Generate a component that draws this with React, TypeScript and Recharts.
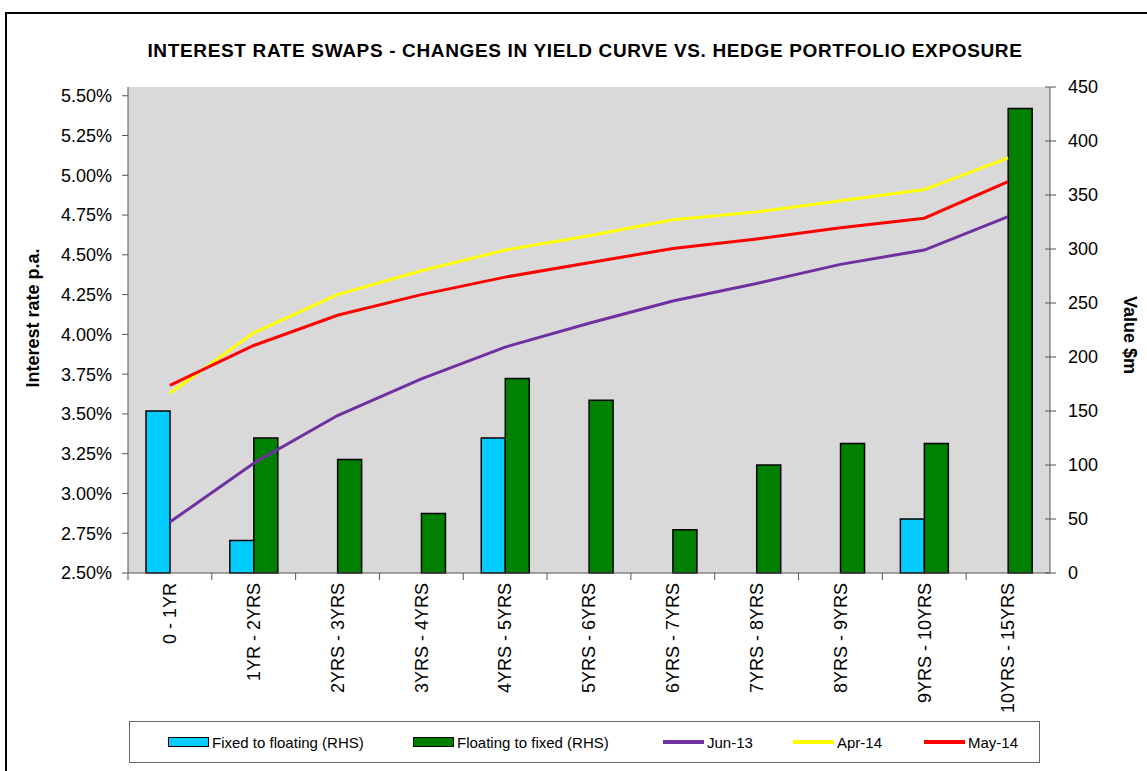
import React from "react"
import {
  ComposedChart,
  Bar,
  Line,
  XAxis,
  YAxis,
  CartesianGrid,
  Legend,
  Label
} from 'recharts'

const categories = [
  '0 - 1YR', '1YR - 2YRS', '2YRS - 3YRS', '3YRS - 4YRS', '4YRS - 5YRS', '5YRS - 6YRS',
  '6YRS - 7YRS', '7YRS - 8YRS', '8YRS - 9YRS', '9YRS - 10YRS', '10YRS - 15YRS'
]
// $m, right axis
const fixedToFloating = [150, 30, null, null, 125, null, null, null, null, 50, null]
const floatingToFixed = [null, 125, 105, 55, 180, 160, 40, 100, 120, 120, 430]
// % p.a., left axis
const jun13 = [2.82, 3.19, 3.49, 3.72, 3.92, 4.07, 4.21, 4.32, 4.44, 4.53, 4.74]
const apr14 = [3.63, 4.01, 4.25, 4.40, 4.53, 4.62, 4.72, 4.77, 4.84, 4.91, 5.11]
const may14 = [3.68, 3.93, 4.12, 4.25, 4.36, 4.45, 4.54, 4.60, 4.67, 4.73, 4.96]

const rateTicks = [2.5, 2.75, 3, 3.25, 3.5, 3.75, 4, 4.25, 4.5, 4.75, 5, 5.25, 5.5]
const valueTicks = [0, 50, 100, 150, 200, 250, 300, 350, 400, 450]

const data = categories.map((name, i) => ({
  name,
  fixed: fixedToFloating[i],
  floating: floatingToFixed[i],
  jun13: jun13[i],
  apr14: apr14[i],
  may14: may14[i]
}))

// left = offset of the swatch inside the legend box
const legendItems = [
  { label: 'Fixed to floating (RHS)', color: '#00CCFF', kind: 'bar', left: 38 },
  { label: 'Floating to fixed (RHS)', color: '#008000', kind: 'bar', left: 283 },
  { label: 'Jun-13', color: '#7030A0', kind: 'line', left: 533 },
  { label: 'Apr-14', color: '#FFFF00', kind: 'line', left: 663 },
  { label: 'May-14', color: '#FF0000', kind: 'line', left: 794 }
]

const font = '"Liberation Sans", Arial, sans-serif'
const axisColor = '#555'

function CategoryTick({ x, y, payload }: any) {
  const half = payload.offset ?? 0
  return (
    <g transform={`translate(${x},${y})`}>
      <line x1={-half} x2={-half} y1={0} y2={7} stroke={axisColor} />
      <text transform="rotate(-90)" x={-10} y={0} dy="0.35em" textAnchor="end"
        fontSize={18} fill="#000" fontFamily={font}>
        {payload.value}
      </text>
    </g>
  )
}

function ValueTick({ x, y, payload }: any) {
  return (
    <g>
      <line x1={x - 23} x2={x - 12} y1={y} y2={y} stroke={axisColor} />
      <text x={x} y={y} dy="0.35em" textAnchor="start" fontSize={18} fill="#000" fontFamily={font}>
        {payload.value}
      </text>
    </g>
  )
}

function ChartLegend() {
  return (
    <div style={{
      position: 'relative', boxSizing: 'border-box', height: 42, border: '1px solid #666',
      background: '#fff', fontSize: 15, fontFamily: font
    }}>
      {legendItems.map((it) => (
        <div key={it.label} style={{
          position: 'absolute', left: it.left, top: 0, height: 40,
          display: 'flex', alignItems: 'center', whiteSpace: 'nowrap'
        }}>
          {it.kind === 'bar'
            ? <span style={{ display: 'inline-block', boxSizing: 'border-box', width: 41, height: 10, background: it.color, border: '1.5px solid #000' }} />
            : <span style={{ display: 'inline-block', width: 41, height: 4, background: it.color }} />}
          <span style={{ marginLeft: 3, color: '#000' }}>{it.label}</span>
        </div>
      ))}
    </div>
  )
}

function App() {
  return (
    <div style={{ position: 'absolute', left: 0, top: 0, width: 1147, height: 771, background: '#fff', fontFamily: font, overflow: 'hidden' }}>
      <div style={{ position: 'absolute', left: 5, top: 12, width: 1200, height: 800, borderTop: '2px solid #000', borderLeft: '2px solid #000' }} />
      <div style={{
        position: 'absolute', left: 0, width: 1170, top: 41, textAlign: 'center',
        fontSize: 19, lineHeight: '19px', fontWeight: 'bold', letterSpacing: 0.65, color: '#000'
      }}>
        INTEREST RATE SWAPS - CHANGES IN YIELD CURVE VS. HEDGE PORTFOLIO EXPOSURE
      </div>
      <div style={{ position: 'absolute', left: 0, top: 0 }}>
        <ComposedChart width={1147} height={771} data={data} barGap={0} barSize={24}
          margin={{ top: 87, right: 0, bottom: 8, left: 0 }}>
          <CartesianGrid fill="#D9D9D9" horizontal={false} vertical={false} />
          <XAxis dataKey="name" interval={0} height={148} tickSize={0} tickMargin={0}
            tick={<CategoryTick />} axisLine={{ stroke: axisColor }} />
          <YAxis yAxisId="rate" orientation="left" width={128} domain={[2.5, 5.555]}
            ticks={rateTicks} allowDataOverflow tickSize={6} tickMargin={10}
            tickFormatter={(v: number) => `${v.toFixed(2)}%`}
            tick={{ fontSize: 18, fill: '#000', fontFamily: font }}
            axisLine={{ stroke: axisColor }} tickLine={{ stroke: axisColor }}>
            <Label content={({ viewBox }: any) => {
              const cx = viewBox.x + 33
              const cy = viewBox.y + viewBox.height / 2 - 12
              return (
                <text x={cx} y={cy} transform={`rotate(-90,${cx},${cy})`} textAnchor="middle"
                  dominantBaseline="central" fontSize={18} fontWeight="bold" fontFamily={font} fill="#000">
                  Interest rate p.a.
                </text>
              )
            }} />
          </YAxis>
          <YAxis yAxisId="value" orientation="right" width={97} domain={[0, 450]}
            ticks={valueTicks} tickSize={6} tickMargin={12} tickLine={false}
            tick={<ValueTick />} axisLine={{ stroke: axisColor }}>
            <Label content={({ viewBox }: any) => {
              const cx = viewBox.x + 80
              const cy = viewBox.y + viewBox.height / 2 + 5
              return (
                <text x={cx} y={cy} transform={`rotate(90,${cx},${cy})`} textAnchor="middle"
                  dominantBaseline="central" fontSize={18} fontWeight="bold" fontFamily={font} fill="#000">
                  Value $m
                </text>
              )
            }} />
          </YAxis>
          <Legend verticalAlign="bottom" content={() => <ChartLegend />}
            wrapperStyle={{ left: 129, width: 911, bottom: 8 }} />
          <Bar yAxisId="value" dataKey="fixed" name="Fixed to floating (RHS)" fill="#00CCFF"
            stroke="#000" strokeWidth={1.5} isAnimationActive={false} />
          <Bar yAxisId="value" dataKey="floating" name="Floating to fixed (RHS)" fill="#008000"
            stroke="#000" strokeWidth={1.5} isAnimationActive={false} />
          <Line yAxisId="rate" dataKey="jun13" name="Jun-13" type="linear" stroke="#7030A0"
            strokeWidth={3} dot={false} isAnimationActive={false} />
          <Line yAxisId="rate" dataKey="apr14" name="Apr-14" type="linear" stroke="#FFFF00"
            strokeWidth={3} dot={false} isAnimationActive={false} />
          <Line yAxisId="rate" dataKey="may14" name="May-14" type="linear" stroke="#FF0000"
            strokeWidth={3} dot={false} isAnimationActive={false} />
        </ComposedChart>
      </div>
    </div>
  )
}

export default App
